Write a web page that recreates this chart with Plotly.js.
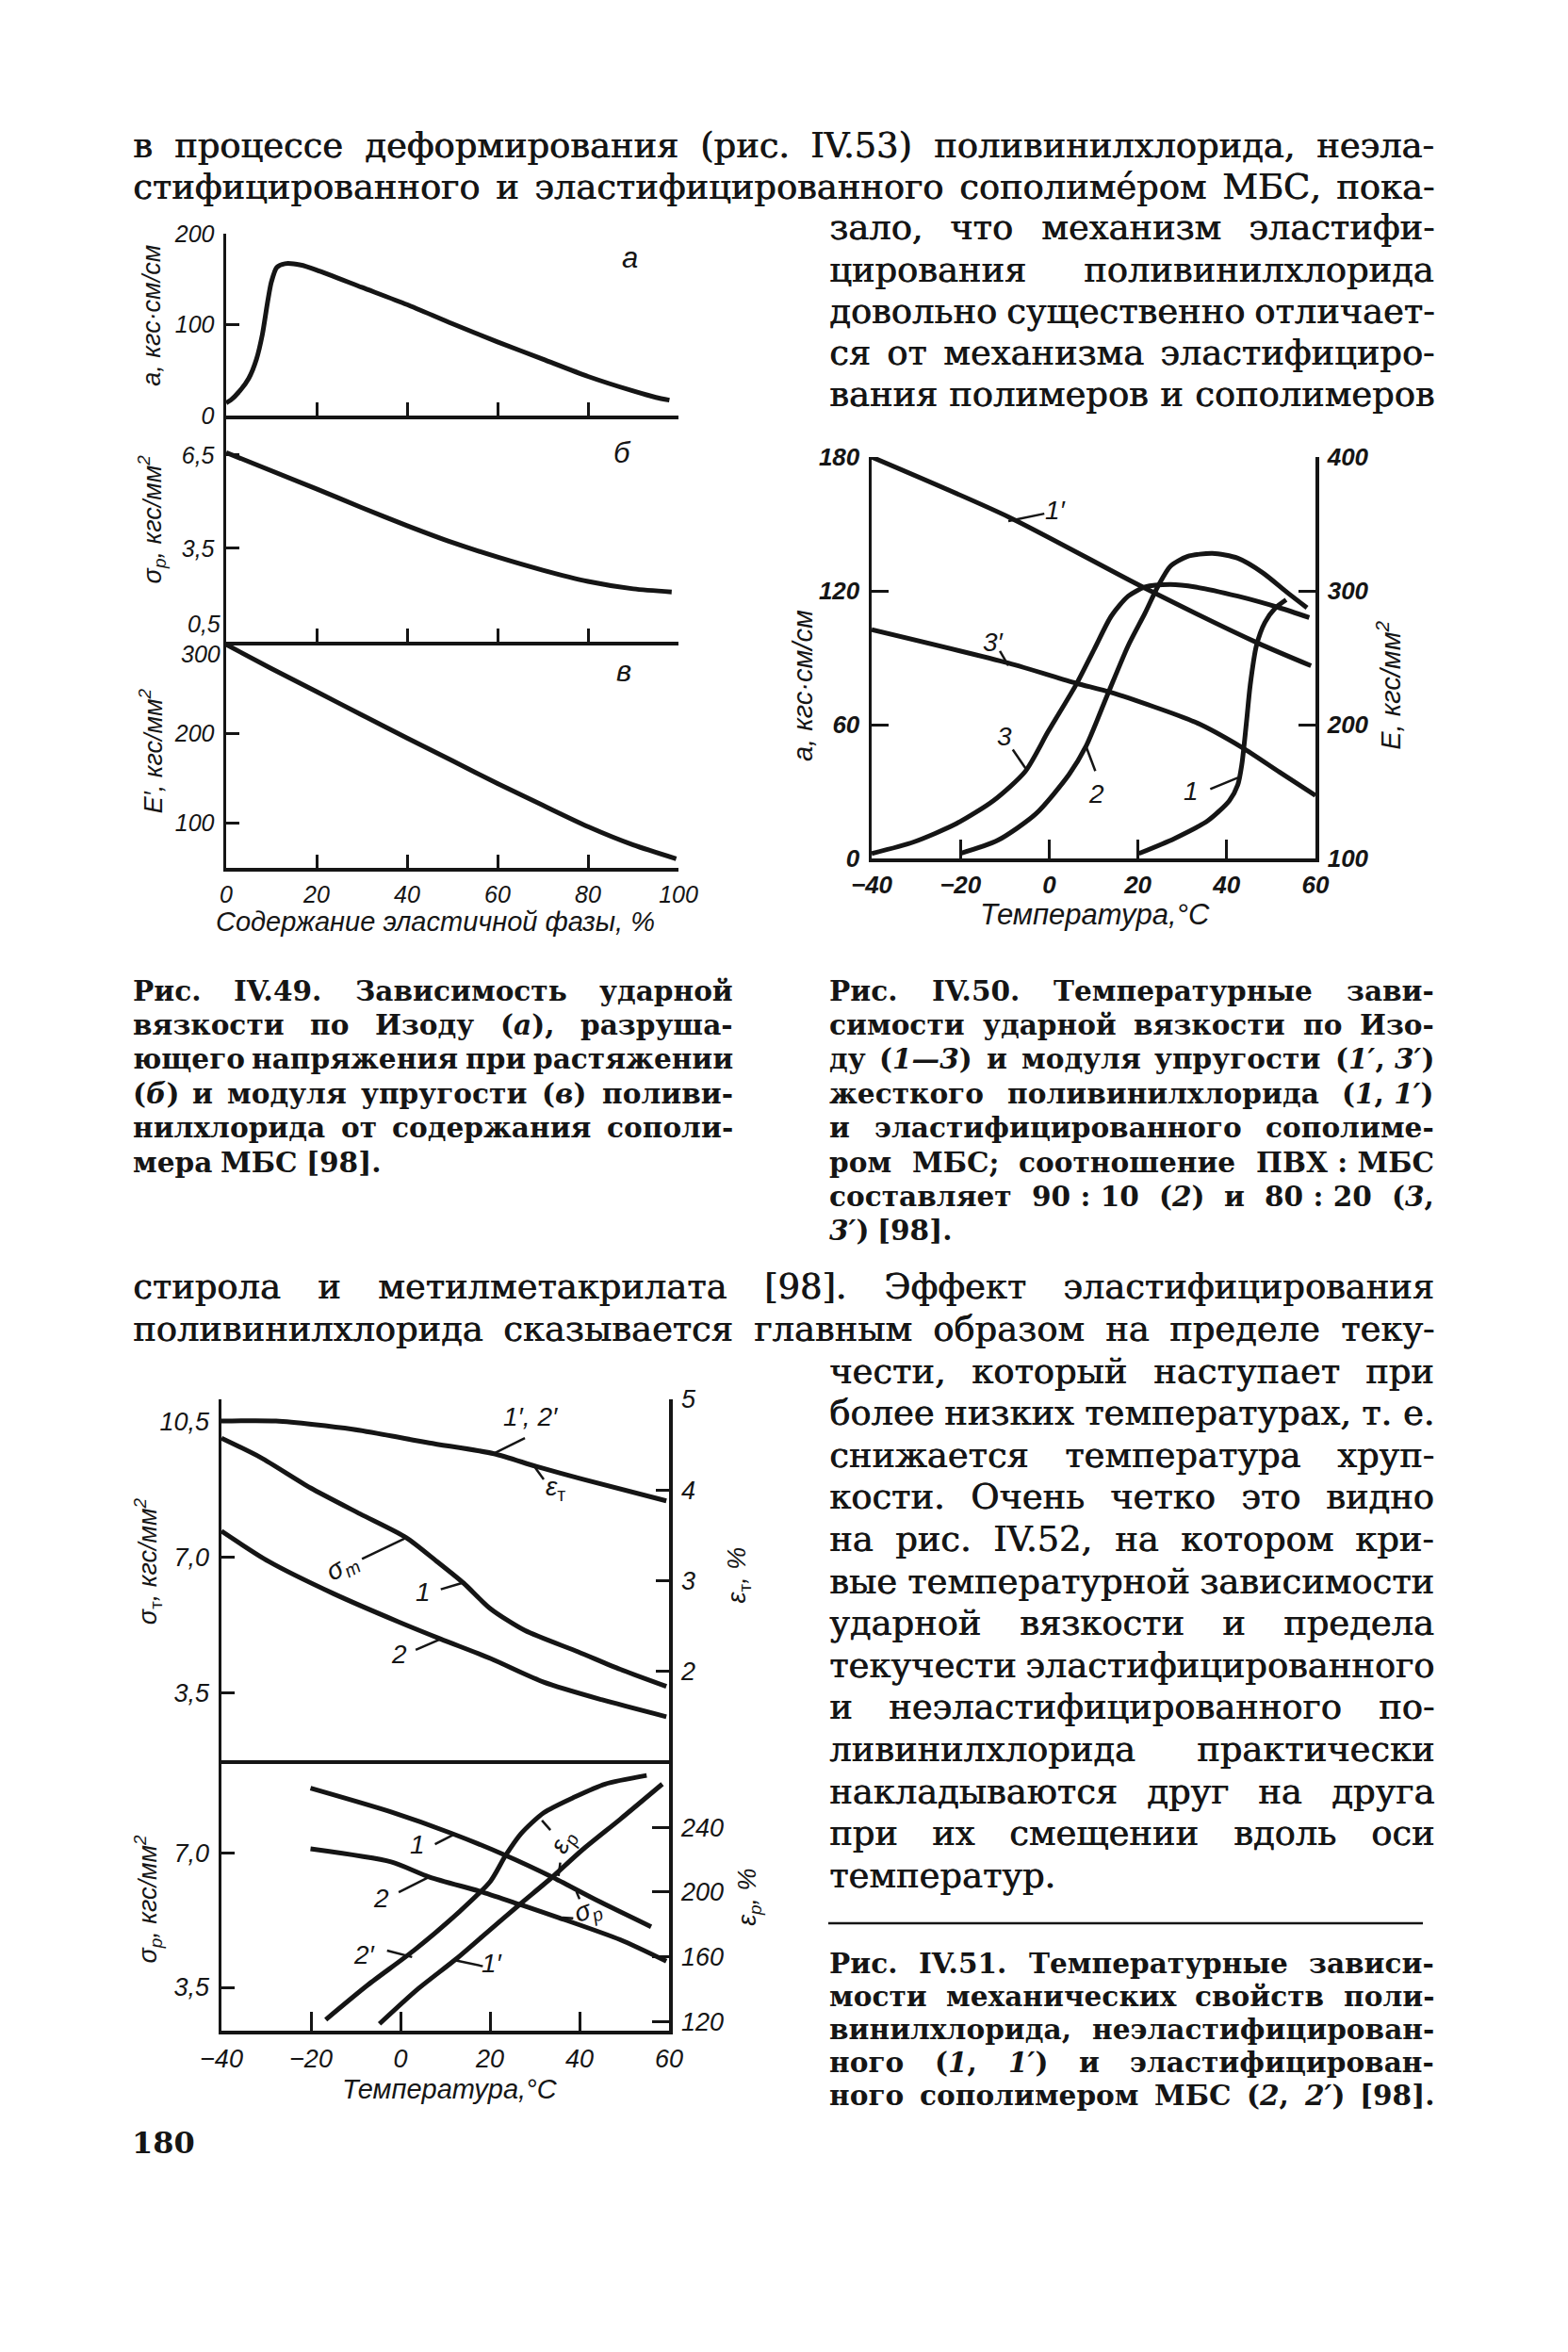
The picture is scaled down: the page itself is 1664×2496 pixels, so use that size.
<!DOCTYPE html>
<html>
<head>
<meta charset="utf-8">
<script src="https://cdn.plot.ly/plotly-3.0.1.min.js"></script>
<style>
  html, body { margin: 0; padding: 0; background: #fff; }
  #page { width: 1664px; height: 2496px; }
</style>
</head>
<body>
<div id="page"></div>
<script>
// --- Рис. IV.49: содержание эластичной фазы, % ---
const impactX = [0, 1, 3, 5, 6.7, 8, 9.2, 10, 11.2, 13, 16.5, 20, 30, 40, 50, 60, 70, 80, 90, 95, 98];
const impactY = [14, 17, 27, 41, 62, 89, 126, 147, 163, 167, 165.5, 160, 141, 122, 101, 81, 62, 43, 27, 20, 17];
const breakX = [0, 20, 30, 40, 50, 60, 70, 80, 90, 98.5];
const breakY = [6.58, 5.41, 4.81, 4.23, 3.69, 3.22, 2.8, 2.44, 2.2, 2.1];
const modulusX = [0, 10, 20, 30, 40, 50, 60, 70, 80, 90, 99.5];
const modulusY = [300, 273, 247, 221, 195, 169.5, 144, 119.5, 95.5, 75, 59.5];

// --- Рис. IV.50: температура, °C ---
const izod1X = [20.2, 28.2, 35.8, 40.6, 42.5, 43.4, 44.4, 45.3, 46.7, 48.6, 51, 53.4];
const izod1Y = [2.2, 8.9, 17, 25.9, 33, 42, 60, 77.7, 95.4, 105.8, 112.4, 116];
const izod2X = [-20.1, -11.6, -3, 4.5, 8.3, 13.1, 17.8, 21.6, 24.5, 27.3, 31.1, 36.8, 42.5, 48.2, 53.8, 58.1];
const izod2Y = [2.2, 8.1, 20, 37.7, 50.3, 73.2, 95.4, 110, 122, 131, 135.4, 136.8, 134.6, 128, 119, 112.4];
const izod3X = [-40, -30.5, -21, -12.5, -5.4, -0.2, 6, 10.2, 14, 17.8, 21.6, 27.3, 33, 42.5, 51.9, 58.6];
const izod3Y = [2.2, 7.4, 15.5, 26, 39, 57, 77.7, 94, 108.7, 117.6, 121.7, 122.8, 121.7, 117.6, 112.4, 108];
const elast1X = [-40, -9, 21, 47, 59];
const elast1Y = [400, 355, 303, 261, 244];
const elast3X = [-40, -9.2, 6, 14, 33, 43.4, 51.9, 60];
const elast3Y = [271, 246, 231, 224, 201.7, 183, 164.5, 147];

// --- Рис. IV.51: температура, °C ---
const yieldStrainX = [-40, -27.8, -10.7, 6.4, 20.9, 30.3, 40.6, 59.4];
const yieldStrainY = [4.76, 4.76, 4.67, 4.52, 4.40, 4.26, 4.12, 3.88];
const yield1X = [-40, -31.2, -20.1, -9, 1.3, 8.1, 14.1, 20.1, 27.8, 39.7, 49.1, 59.4];
const yield1Y = [10.06, 9.56, 8.78, 8.11, 7.5, 6.89, 6.33, 5.67, 5.11, 4.56, 4.11, 3.67];
const yield2X = [-40, -29.5, -15, -0.4, 9, 20.1, 32, 44.9, 59.4];
const yield2Y = [7.67, 6.89, 6.06, 5.33, 4.89, 4.39, 3.78, 3.33, 2.89];
const rupture1X = [-20.1, -2.1, 11.5, 23.5, 33.8, 43.2, 56];
const rupture1Y = [8.69, 8.07, 7.51, 6.94, 6.38, 5.81, 5.08];
const rupture2X = [-20.1, -2.1, 6.4, 18.4, 26.9, 35.5, 49.1, 59.4];
const rupture2Y = [7.11, 6.77, 6.38, 5.98, 5.65, 5.31, 4.74, 4.18];
const ruptStrain2X = [-16.7, -7.3, 3, 13.2, 20.1, 23.5, 26.9, 32, 38.9, 45.7, 55];
const ruptStrain2Y = [121.3, 142.7, 164, 188, 206.7, 222.7, 236, 249, 258.7, 266.7, 272];
const ruptStrain1X = [-4.7, 3.8, 12.4, 20.1, 26.9, 33.8, 40.6, 49.1, 58.5];
const ruptStrain1Y = [118.7, 140, 158.7, 177, 193, 209, 226, 245, 266.7];

// tick values and labels
const phaseTicks = [0, 20, 40, 60, 80, 100];
const tempTicks = [-40, -20, 0, 20, 40, 60];
const impactTicks = [0, 100, 200];
const breakTicks = [3.5, 6.5];
const breakLabels = ['3,5', '6,5'];
const modulusTicks = [100, 200];
const izodTicks = [0, 60, 120, 180];
const elastTicks = [100, 200, 300, 400];
const yieldTicks = [3.5, 7, 10.5];
const yieldLabels = ['3,5', '7,0', '10,5'];
const yieldStrainTicks = [2, 3, 4, 5];
const ruptureTicks = [3.5, 7];
const ruptureLabels = ['3,5', '7,0'];
const ruptStrainTicks = [120, 160, 200, 240];

// page text
const bodyTop = [
  'в процессе деформирования (рис. IV.53) поливинилхлорида, неэла-',
  'стифицированного и эластифицированного сополиме\u0301ром МБС, пока-'
];
const bodyTopCol = [
  'зало, что механизм эластифи-',
  'цирования поливинилхлорида',
  'довольно существенно отличает-',
  'ся от механизма эластифициро-',
  'вания полимеров и сополимеров'
];
const bodyMid = [
  'стирола и метилметакрилата [98]. Эффект эластифицирования',
  'поливинилхлорида сказывается главным образом на пределе теку-'
];
const bodyLowCol = [
  'чести, который наступает при',
  'более низких температурах, т.\u00a0е.',
  'снижается температура хруп-',
  'кости. Очень четко это видно',
  'на рис. IV.52, на котором кри-',
  'вые температурной зависимости',
  'ударной вязкости и предела',
  'текучести эластифицированного',
  'и неэластифицированного по-',
  'ливинилхлорида практически',
  'накладываются друг на друга',
  'при их смещении вдоль оси',
  'температур.'
];
const caption49 = [
  'Рис. IV.49. Зависимость ударной',
  'вязкости по Изоду (<i>а</i>), разруша-',
  'ющего напряжения при растяжении',
  '(<i>б</i>) и модуля упругости (<i>в</i>) поливи-',
  'нилхлорида от содержания сополи-',
  'мера МБС [98].'
];
const caption50 = [
  'Рис. IV.50. Температурные зави-',
  'симости ударной вязкости по Изо-',
  'ду (<i>1—3</i>) и модуля упругости (<i>1′</i>,\u00a0<i>3′</i>)',
  'жесткого поливинилхлорида (<i>1</i>,\u00a0<i>1′</i>)',
  'и эластифицированного сополиме-',
  'ром МБС; соотношение ПВХ\u00a0:\u00a0МБС',
  'составляет 90\u00a0:\u00a010 (<i>2</i>) и 80\u00a0:\u00a020 (<i>3</i>,',
  '<i>3′</i>) [98].'
];
const caption51 = [
  'Рис. IV.51. Температурные зависи-',
  'мости механических свойств поли-',
  'винилхлорида, неэластифицирован-',
  'ного (<i>1</i>, <i>1′</i>) и эластифицирован-',
  'ного сополимером МБС (<i>2</i>, <i>2′</i>) [98].'
];

const W = 1664, H = 2496;
const INK = '#151515';
const SERIF = '"DejaVu Serif"';
const SANS = '"Liberation Sans", "DejaVu Sans", sans-serif';
const px = v => v / W;
const py = v => 1 - v / H;
const SUB_T = '<sub><span style="font-style:normal">т</span></sub>';

const annotations = [];
const shapes = [];

// ---------- justified text ----------
const ctx = document.createElement('canvas').getContext('2d');
function wordWidth(t, size, weight) {
  ctx.font = `${weight} ${size}px ${SERIF}`;
  return ctx.measureText(t.replace(/<[^>]+>/g, '')).width;
}
function fitSize(lines, base, weight) {
  let size = base;
  lines.forEach(l => {
    const words = l.text.split(' ');
    const w = words.reduce((s, t) => s + wordWidth(t, size, weight), 0);
    const need = w + size * 0.25 * (words.length - 1);
    if (need > l.x1 - l.x0) size = size * (l.x1 - l.x0) / need;
  });
  return size;
}
function placeLines(lines, base, weight, shadow) {
  const size = fitSize(lines, base, weight);
  lines.forEach(l => {
    const words = l.text.split(' ');
    const widths = words.map(t => wordWidth(t, size, weight));
    const total = widths.reduce((a, b) => a + b, 0);
    const gap = (l.last || words.length === 1) ? size * 0.3 : (l.x1 - l.x0 - total) / (words.length - 1);
    let x = l.x0;
    words.forEach((t, i) => {
      annotations.push({
        text: t, x: px(x), y: py(l.y), xref: 'paper', yref: 'paper',
        xanchor: 'left', yanchor: 'middle', showarrow: false, borderpad: 0,
        font: { family: SERIF, size: size, color: INK, weight: weight, shadow: shadow }
      });
      x += widths[i] + gap;
    });
  });
}
function block(texts, x0, x1, y0, step, lastLeft) {
  return texts.map((text, i) => ({ text, x0, x1, y: y0 + i * step, last: lastLeft && i === texts.length - 1 }));
}

const bodyLines = [].concat(
  block(bodyTop, 140, 1521, 154, 44.2, false),
  block(bodyTopCol, 879, 1521, 242, 44.2, false),
  block(bodyMid, 140, 1521, 1365, 45.5, false),
  block(bodyLowCol, 879, 1521, 1455, 44.6, true)
);
placeLines(bodyLines, 38, 'normal', '0.7px 0 0 #151515');
placeLines([].concat(
  block(caption49, 140, 777, 1051, 36.4, true),
  block(caption50, 879, 1521, 1051, 36.4, true),
  block(caption51, 879, 1521, 2083, 35, false)
), 31, 'bold', 'none');

shapes.push({ type: 'line', xref: 'paper', yref: 'paper', x0: px(879), x1: px(1510), y0: py(2041), y1: py(2041), line: { color: INK, width: 2.5 } });
annotations.push({ text: '180', x: px(138), y: py(2274), xref: 'paper', yref: 'paper', xanchor: 'left', yanchor: 'middle', showarrow: false, font: { family: SERIF, size: 32, color: INK, weight: 'bold' } });

// ---------- chart helpers ----------
function curve(x, y, xa, ya) {
  return { x, y, xaxis: xa, yaxis: ya, type: 'scatter', mode: 'lines', hoverinfo: 'skip', showlegend: false,
    line: { color: INK, width: 5, shape: 'spline', smoothing: 0.7 } };
}
function axis(extra, size, bold) {
  return Object.assign({
    showgrid: false, zeroline: false, showline: true, linecolor: INK, linewidth: 3.5,
    ticks: 'inside', ticklen: 14, tickwidth: 3, tickcolor: INK, ticklabelstandoff: 4,
    tickfont: { family: SANS, size: size || 25, color: INK, style: 'italic', weight: bold ? 'bold' : 'normal' },
    fixedrange: true
  }, extra);
}
function label(text, x, y, xref, yref, extra) {
  annotations.push(Object.assign({
    text, x, y, xref, yref, showarrow: false, xanchor: 'center', yanchor: 'middle',
    font: { family: SANS, size: 28, color: INK, style: 'italic' }
  }, extra || {}));
}
function leader(x0, y0, x1, y1, xref, yref) {
  shapes.push({ type: 'line', x0, y0, x1, y1, xref, yref, line: { color: INK, width: 2.5 } });
}
// data -> paper for text placed outside the plotting ranges
function mapper(xpx, xr, ypx, yr) {
  return (x, y) => [
    px(xpx[0] + (x - xr[0]) / (xr[1] - xr[0]) * (xpx[1] - xpx[0])),
    py(ypx[0] + (y - yr[0]) / (yr[1] - yr[0]) * (ypx[1] - ypx[0]))
  ];
}
function outside(text, map, x, y, extra) {
  const p = map(x, y);
  label(text, p[0], p[1], 'paper', 'paper', extra);
}
const titleFont = { family: SANS, size: 27, color: INK, style: 'italic' };
const tickLike = { family: SANS, size: 25, color: INK, style: 'italic' };

// chart frames: pixel positions and ranges
const c1X = [240, 720], c1XR = [0, 100];
const c1TopY = [441, 248], c1TopR = [0, 200];
const c1MidY = [681, 441], c1MidR = [0.5, 7.77];
const c1BotY = [921, 681], c1BotR = [49.2, 303.2];
const c2X = [925, 1396], c2XR = [-40, 60];
const c2Y = [911, 485], c2YR = [0, 180], c2Y2R = [100, 400];
const c3X = [235, 710], c3XR = [-40, 60];
const c3TopY = [1868, 1485], c3TopR = [1.77, 11.06], c3TopR2 = [1.02, 5];
const c3BotY = [2155, 1868], c3BotR = [2.37, 9.42], c3BotR2 = [114.5, 281.4];

const c1Top = mapper(c1X, c1XR, c1TopY, c1TopR);
const c1Mid = mapper(c1X, c1XR, c1MidY, c1MidR);
const c1Bot = mapper(c1X, c1XR, c1BotY, c1BotR);
const c2Map = mapper(c2X, c2XR, c2Y, c2YR);
const c3Top = mapper(c3X, c3XR, c3TopY, c3TopR);
const c3Bot = mapper(c3X, c3XR, c3BotY, c3BotR);

// ---------- Рис. IV.49 ----------
const letterFont = { family: SANS, size: 31, color: INK, style: 'italic' };
label('а', 89.2, 173.5, 'x', 'y', { font: letterFont });
label('б', 87.6, 6.58, 'x2', 'y2', { font: letterFont });
label('в', 88, 270, 'x3', 'y3', { font: letterFont });
outside('а, кгс·см/см', c1Top, -16.5, 110, { textangle: -90, font: titleFont });
outside('σ<sub>р</sub>, кгс/мм<sup>2</sup>', c1Mid, -16.5, 4.45, { textangle: -90, font: titleFont });
outside('E′, кгс/мм<sup>2</sup>', c1Bot, -16.5, 181, { textangle: -90, font: titleFont });
outside('0,5', c1Mid, -0.9, 1.07, { xanchor: 'right', font: tickLike });
outside('300', c1Bot, -0.9, 289, { xanchor: 'right', font: tickLike });
label('Содержание эластичной фазы, %', px(462), py(978), 'paper', 'paper', { font: { family: SANS, size: 29, color: INK, style: 'italic' } });

// ---------- Рис. IV.50 ----------
label('1′', 1.5, 156, 'x4', 'y4'); leader(-1.1, 154.6, -9.2, 151.3, 'x4', 'y4');
label('3′', -12.5, 97, 'x4', 'y4'); leader(-11.1, 93, -9.2, 86.5, 'x4', 'y4');
label('3', -10.1, 54.7, 'x4', 'y4'); leader(-8.2, 48.8, -4.9, 39.2, 'x4', 'y4');
label('2', 10.7, 28.8, 'x4', 'y4'); leader(10.4, 39.2, 8.3, 50.3, 'x4', 'y4');
label('1', 32, 30.3, 'x4', 'y4'); leader(36.3, 31.1, 42.5, 36.2, 'x4', 'y4');
outside('а, кгс·см/см', c2Map, -55.5, 77.7, { textangle: -90, font: { family: SANS, size: 29, color: INK, style: 'italic' } });
outside('E, кгс/мм<sup>2</sup>', c2Map, 76.5, 77.7, { textangle: -90, font: { family: SANS, size: 29, color: INK, style: 'italic' } });
label('Температура,°C', px(1162), py(970), 'paper', 'paper', { font: { family: SANS, size: 31, color: INK, style: 'italic' } });

// ---------- Рис. IV.51 ----------
label('1′, 2′', 29.1, 10.61, 'x5', 'y6'); leader(27.8, 10.06, 20.9, 9.67, 'x5', 'y6');
label('ε' + SUB_T, 34.6, 8.78, 'x5', 'y6'); leader(32, 9.0, 29.9, 9.33, 'x5', 'y6');
label('σ<sub>т</sub>', -13, 6.72, 'x5', 'y6', { textangle: -30 }); leader(-8.6, 6.95, 1.3, 7.5, 'x5', 'y6');
label('1', 5.1, 6.11, 'x5', 'y6'); leader(9, 6.17, 13.7, 6.33, 'x5', 'y6');
label('2', -0.4, 4.5, 'x5', 'y6'); leader(3.4, 4.61, 9, 4.89, 'x5', 'y6');
label('1', 3.8, 7.23, 'x6', 'y8'); leader(7.7, 7.23, 12, 7.49, 'x6', 'y8');
label('2', -4.3, 5.81, 'x6', 'y8'); leader(-0.4, 5.98, 6.4, 6.38, 'x6', 'y8');
label('2′', -8.1, 4.35, 'x6', 'y8'); leader(-3, 4.46, 2.6, 4.29, 'x6', 'y8');
label('1′', 20.5, 4.12, 'x6', 'y8'); leader(18.4, 4.05, 12.4, 4.2, 'x6', 'y8');
label('ε<sub>р</sub>', 36.3, 7.28, 'x6', 'y8', { textangle: -65 });
leader(33.5, 7.6, 31.6, 7.85, 'x6', 'y8'); leader(35.7, 6.75, 35.3, 6.4, 'x6', 'y8');
label('σ<sub>р</sub>', 41.9, 5.48, 'x6', 'y8', { textangle: -20 });
leader(40, 5.8, 39.3, 6.0, 'x6', 'y8'); leader(38.6, 5.3, 36.2, 5.32, 'x6', 'y8');
outside('σ' + SUB_T + ', кгс/мм<sup>2</sup>', c3Top, -56.5, 6.9, { textangle: -90, font: titleFont });
outside('ε' + SUB_T + ', %', c3Top, 75.5, 6.53, { textangle: -90, font: titleFont });
outside('σ<sub>р</sub>, кгс/мм<sup>2</sup>', c3Bot, -56.5, 5.81, { textangle: -90, font: titleFont });
outside('ε<sub>р</sub>, %', c3Bot, 78, 5.85, { textangle: -90, font: titleFont });
label('Температура,°C', px(478), py(2217), 'paper', 'paper', { font: { family: SANS, size: 29, color: INK, style: 'italic' } });

const traces = [
  curve(impactX, impactY, 'x', 'y'),
  curve(breakX, breakY, 'x2', 'y2'),
  curve(modulusX, modulusY, 'x3', 'y3'),
  curve(izod1X, izod1Y, 'x4', 'y4'),
  curve(izod2X, izod2Y, 'x4', 'y4'),
  curve(izod3X, izod3Y, 'x4', 'y4'),
  curve(elast1X, elast1Y, 'x4', 'y5'),
  curve(elast3X, elast3Y, 'x4', 'y5'),
  curve(yieldStrainX, yieldStrainY, 'x5', 'y7'),
  curve(yield1X, yield1Y, 'x5', 'y6'),
  curve(yield2X, yield2Y, 'x5', 'y6'),
  curve(rupture1X, rupture1Y, 'x6', 'y8'),
  curve(rupture2X, rupture2Y, 'x6', 'y8'),
  curve(ruptStrain2X, ruptStrain2Y, 'x6', 'y9'),
  curve(ruptStrain1X, ruptStrain1Y, 'x6', 'y9')
];

const xdom = a => [px(a[0]), px(a[1])];
const ydom = a => [py(a[0]), py(a[1])];

const layout = {
  width: W, height: H,
  margin: { l: 0, r: 0, t: 0, b: 0 },
  paper_bgcolor: '#ffffff', plot_bgcolor: 'rgba(0,0,0,0)',
  showlegend: false,
  // Рис. IV.49
  xaxis: axis({ domain: xdom(c1X), range: c1XR, anchor: 'y', tickvals: phaseTicks.slice(1), showticklabels: false }),
  yaxis: axis({ domain: ydom(c1TopY), range: c1TopR, anchor: 'x', tickvals: impactTicks }),
  xaxis2: axis({ domain: xdom(c1X), range: c1XR, anchor: 'y2', tickvals: phaseTicks.slice(1), showticklabels: false }),
  yaxis2: axis({ domain: ydom(c1MidY), range: c1MidR, anchor: 'x2', tickvals: breakTicks, ticktext: breakLabels }),
  xaxis3: axis({ domain: xdom(c1X), range: c1XR, anchor: 'y3', tickvals: phaseTicks, ticklabelstandoff: 3 }),
  yaxis3: axis({ domain: ydom(c1BotY), range: c1BotR, anchor: 'x3', tickvals: modulusTicks }),
  // Рис. IV.50
  xaxis4: axis({ domain: xdom(c2X), range: c2XR, anchor: 'y4', tickvals: tempTicks, ticklen: 20, ticklabelstandoff: 2 }, 26, true),
  yaxis4: axis({ domain: ydom(c2Y), range: c2YR, anchor: 'x4', tickvals: izodTicks, ticklen: 18 }, 26, true),
  yaxis5: axis({ range: c2Y2R, overlaying: 'y4', side: 'right', anchor: 'x4', tickvals: elastTicks, ticklen: 18 }, 26, true),
  // Рис. IV.51
  xaxis5: axis({ domain: xdom(c3X), range: c3XR, anchor: 'y6', ticks: '', showticklabels: false }),
  yaxis6: axis({ domain: ydom(c3TopY), range: c3TopR, anchor: 'x5', tickvals: yieldTicks, ticktext: yieldLabels }, 27),
  yaxis7: axis({ range: c3TopR2, overlaying: 'y6', side: 'right', anchor: 'x5', tickvals: yieldStrainTicks }, 27),
  xaxis6: axis({ domain: xdom(c3X), range: c3XR, anchor: 'y8', tickvals: tempTicks, ticklen: 20, ticklabelstandoff: 3 }, 27),
  yaxis8: axis({ domain: ydom(c3BotY), range: c3BotR, anchor: 'x6', tickvals: ruptureTicks, ticktext: ruptureLabels }, 27),
  yaxis9: axis({ range: c3BotR2, overlaying: 'y8', side: 'right', anchor: 'x6', tickvals: ruptStrainTicks, ticklen: 18 }, 27),
  annotations: annotations,
  shapes: shapes
};

Plotly.newPlot('page', traces, layout, { staticPlot: true, displayModeBar: false });
</script>
</body>
</html>
